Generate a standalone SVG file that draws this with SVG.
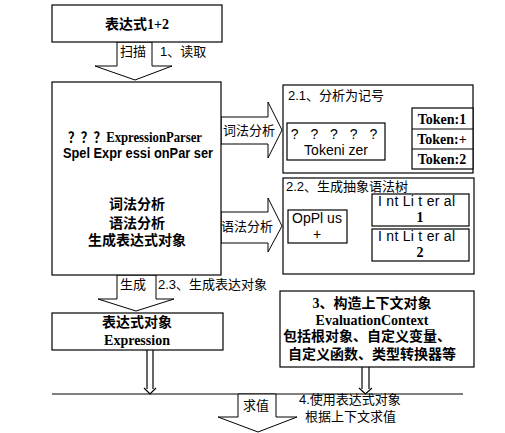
<svg xmlns="http://www.w3.org/2000/svg" width="505" height="433" viewBox="0 0 505 433">
<style>
.b{fill:#fff;stroke:#000;stroke-width:1.2}
.ln{fill:none;stroke:#000;stroke-width:1.2}
.ar{fill:#fff;stroke:#000;stroke-width:1}
text{fill:#000}
.bs{font-family:"Liberation Serif","Noto Sans CJK SC",serif;font-weight:bold;font-size:14px}
.cn{font-family:"Liberation Sans","Noto Sans CJK SC",sans-serif;font-size:13px}
.cb{font-family:"Liberation Serif","Noto Sans CJK SC",serif;font-weight:bold;font-size:14px}
.sn{font-family:"Liberation Sans","Noto Sans CJK SC",sans-serif;font-size:14px}
</style>
<rect width="505" height="433" fill="#fff"/>
<g id="connectors">
<polygon class="ar" points="117,42 117,66 95,66 135,80 172,66 152,66 152,42"/>
<polygon class="ar" points="221,117 268,117 268,102 282,130 268,158 268,144 221,144"/>
<polygon class="ar" points="221,212 268,212 268,198 282,226 268,252 268,243 221,243"/>
<polygon class="ar" points="117,275 117,299 98,299 136,311 174,299 156,299 156,275"/>
<polygon class="ar" points="385,131 407,131 407,127 412,137 407,147 407,143 385,143"/>
<line class="ln" x1="347" y1="225" x2="372" y2="212"/>
<line class="ln" x1="347" y1="233" x2="372" y2="242"/>
<line class="ln" x1="147" y1="350" x2="147" y2="389"/>
<line class="ln" x1="153" y1="350" x2="153" y2="389"/>
<polyline class="ln" points="144,388 150,394 156,388"/>
<line class="ln" x1="362" y1="367" x2="362" y2="389"/>
<line class="ln" x1="369" y1="367" x2="369" y2="389"/>
<polyline class="ln" points="359,388 365.5,394 372,388"/>
<line class="ln" x1="52" y1="394" x2="463" y2="394"/>
<polygon class="ar" points="238,394 238,417 218,417 258,432 297,417 276,417 276,394"/>
<text class="cn" x="120" y="56">扫描</text>
<text class="cn" x="160" y="56">1、读取</text>
<text class="cn" x="223" y="135">词法分析</text>
<text class="cn" x="221" y="231">语法分析</text>
<text class="cn" x="120" y="289">生成</text>
<text class="cn" x="158" y="289">2.3、生成表达对象</text>
<text class="cn" x="243" y="410">求值</text>
<text class="cn" x="299" y="404">4.使用表达式对象</text>
<text class="cn" x="305" y="421">根据上下文求值</text>
</g>
<g id="n-input">
<rect class="b" x="52" y="5" width="170" height="37"/>
<text class="cb" x="137" y="29" text-anchor="middle">表达式1+2</text>
</g>
<g id="n-parser">
<rect class="b" x="52" y="82" width="169" height="193"/>
<text class="bs" x="68" y="142" font-size="13" textLength="134" lengthAdjust="spacingAndGlyphs">？？？ExpressionParser</text>
<text class="sn" x="63" y="158" font-weight="bold" textLength="150" lengthAdjust="spacingAndGlyphs">Spel Expr essi onPar ser</text>
<text class="cb" x="137" y="209" text-anchor="middle">词法分析</text>
<text class="cb" x="137" y="228" text-anchor="middle">语法分析</text>
<text class="cb" x="137" y="245" text-anchor="middle">生成表达式对象</text>
</g>
<g id="n-tokens">
<rect class="b" x="283" y="85" width="190" height="88"/>
<text class="cn" x="288" y="100" font-size="14">2.1、分析为记号</text>
<rect class="b" x="287" y="123" width="98" height="37"/>
<text class="sn" x="336" y="139" text-anchor="middle" font-size="15" letter-spacing="4">? ? ? ? ?</text>
<text class="sn" x="336" y="155" text-anchor="middle">Tokeni zer</text>
<rect class="b" x="412" y="108" width="61" height="61"/>
<line class="ln" x1="412" y1="129" x2="473" y2="129"/>
<line class="ln" x1="412" y1="149" x2="473" y2="149"/>
<text class="bs" x="442" y="124" text-anchor="middle">Token:1</text>
<text class="bs" x="442" y="144" text-anchor="middle">Token:+</text>
<text class="bs" x="442" y="164" text-anchor="middle">Token:2</text>
</g>
<g id="n-ast">
<rect class="b" x="283" y="178" width="191" height="96"/>
<text class="cn" x="286" y="191" font-size="14">2.2、生成抽象语法树</text>
<rect class="b" x="288" y="210" width="59" height="33"/>
<text class="sn" x="317" y="223" text-anchor="middle">OpPl us</text>
<text class="sn" x="317" y="239" text-anchor="middle">+</text>
<rect class="b" x="372" y="194" width="97" height="32"/>
<text class="sn" x="378" y="206" textLength="77" lengthAdjust="spacing">I nt Li t er al</text>
<text class="bs" x="420" y="222" text-anchor="middle" font-size="15">1</text>
<rect class="b" x="372" y="229" width="97" height="32"/>
<text class="sn" x="378" y="241" textLength="77" lengthAdjust="spacing">I nt Li t er al</text>
<text class="bs" x="420" y="257" text-anchor="middle" font-size="15">2</text>
</g>
<g id="n-expression">
<rect class="b" x="52" y="313" width="171" height="37"/>
<text class="cb" x="137" y="327" text-anchor="middle">表达式对象</text>
<text class="bs" x="137" y="345" text-anchor="middle">Expression</text>
</g>
<g id="n-context">
<rect class="b" x="280" y="291" width="194" height="76"/>
<text class="cb" x="372" y="308" text-anchor="middle" font-size="13">3、构造上下文对象</text>
<text class="bs" x="372" y="325" text-anchor="middle" font-size="13">EvaluationContext</text>
<text class="cb" x="367" y="341" text-anchor="middle" font-size="13">包括根对象、自定义变量、</text>
<text class="cb" x="372" y="359" text-anchor="middle" font-size="13.5">自定义函数、类型转换器等</text>
</g>
</svg>
